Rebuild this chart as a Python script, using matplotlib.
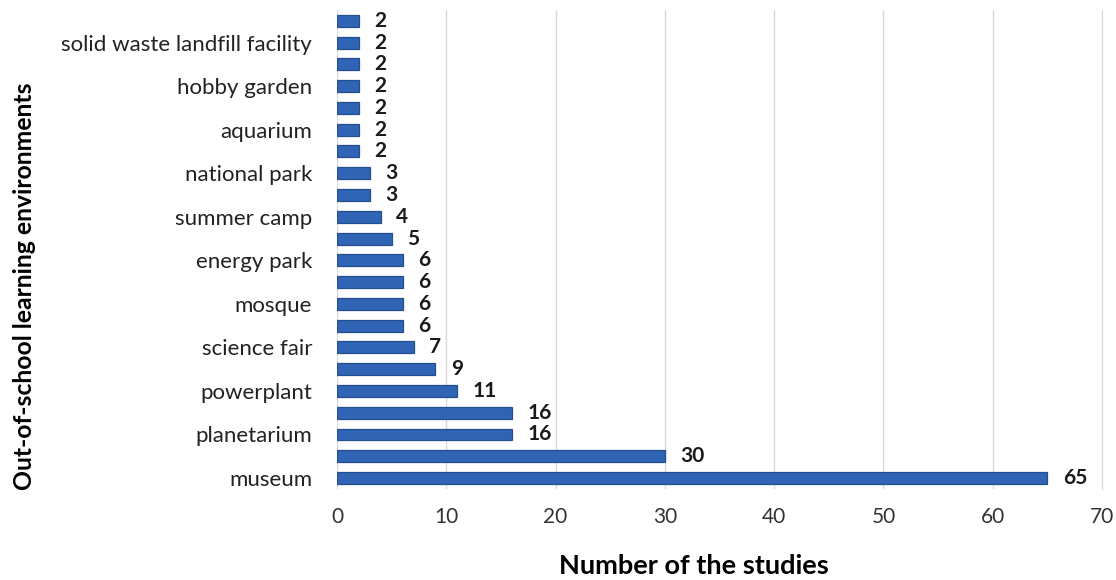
import matplotlib.pyplot as plt
import numpy as np

# bottom to top, as drawn
categories = ['museum', '', 'planetarium', '', 'powerplant', '', 'science fair', '',
              'mosque', '', 'energy park', '', 'summer camp', '', 'national park', '',
              'aquarium', '', 'hobby garden', '', 'solid waste landfill facility', '']
values = [65, 30, 16, 16, 11, 9, 7, 6, 6, 6, 6, 5, 4, 3, 3, 2, 2, 2, 2, 2, 2, 2]

plt.rcParams['font.family'] = ['Lato', 'DejaVu Sans']

fig = plt.figure(figsize=(11.16, 5.8), dpi=100)
ax = fig.add_axes([0.302, 0.157, 0.6855, 0.826])

y = np.arange(len(values))
ax.barh(y, values, height=0.55, color='#3065b6', edgecolor='#234f92', linewidth=0.9)

for yi, v in zip(y, values):
    ax.text(v + 1.4, yi, str(v), va='center', ha='left', fontsize=15,
            fontweight='bold', color='#1a1a1a')

ax.set_xlim(0, 70)
ax.set_ylim(-0.5, len(values) - 0.5)
ax.set_xticks(np.arange(0, 71, 10))
ax.set_yticks(y)
ax.set_yticklabels(categories)
ax.tick_params(axis='y', length=0, labelsize=16, pad=18, colors='#222222')
ax.tick_params(axis='x', length=0, labelsize=15, pad=13, colors='#333333')
ax.grid(True, axis='x', color='#d9d9d9', linewidth=1)
ax.set_axisbelow(True)
for s in ['top', 'left', 'bottom']:
    ax.spines[s].set_visible(False)
ax.spines['right'].set_color('#d9d9d9')

fig.text(0.622, 0.024, 'Number of the studies', fontsize=19.5, fontweight='bold',
         ha='center', va='center')
fig.text(0.022, 0.507, 'Out-of-school learning environments', rotation=90,
         fontsize=17.8, fontweight='bold', ha='center', va='center')

plt.savefig('out.png', dpi=100)
